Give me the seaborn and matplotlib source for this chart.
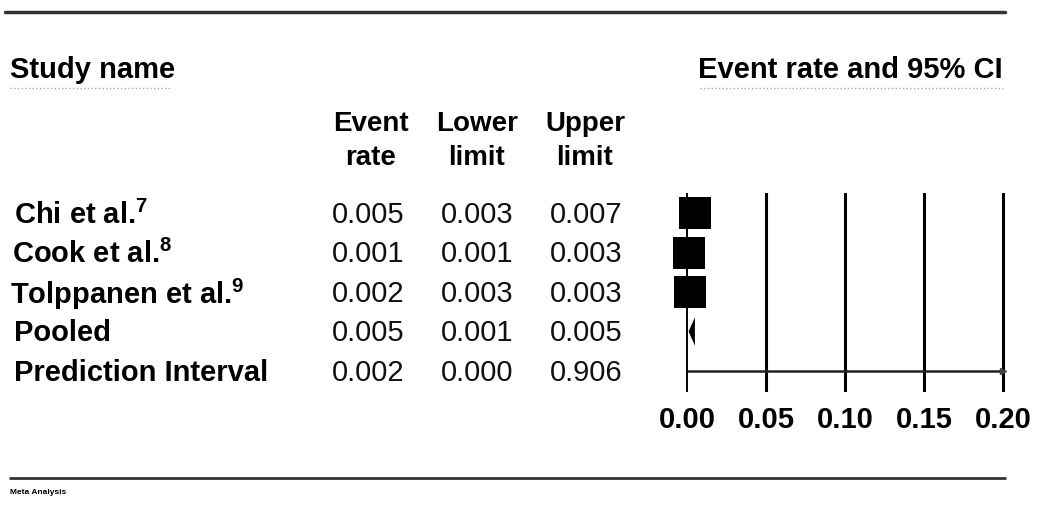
import matplotlib
matplotlib.use("Agg")
import matplotlib.pyplot as plt
import matplotlib.transforms as mtransforms
from matplotlib.lines import Line2D
import seaborn as sns
import pandas as pd

# data
studies = ["Chi et al.", "Cook et al.", "Tolppanen et al.", "Pooled", "Prediction Interval"]
refs = ["7", "8", "9", "", ""]
event_rate = [0.005, 0.001, 0.002, 0.005, 0.002]
lower = [0.003, 0.001, 0.003, 0.001, 0.000]
upper = [0.007, 0.003, 0.003, 0.005, 0.906]
kind = ["study", "study", "study", "pooled", "pi"]
xticks = [0.00, 0.05, 0.10, 0.15, 0.20]
col_headers = ["Event\nrate", "Lower\nlimit", "Upper\nlimit"]

W, H = 1038, 531

def fx(px):
    return px / W

def fy(py):
    return 1 - py / H

sns.set_theme(style="white")
plt.rcParams['font.family'] = ['Liberation Sans', 'DejaVu Sans']
plt.rcParams['mathtext.fontset'] = 'custom'
plt.rcParams['mathtext.rm'] = 'Liberation Sans'
plt.rcParams['mathtext.bf'] = 'Liberation Sans:bold'
plt.rcParams['text.color'] = 'black'
plt.rcParams['xtick.color'] = 'black'

df = pd.DataFrame({"study": studies, "rate": event_rate, "lower": lower,
                   "upper": upper, "kind": kind})
df["row"] = range(len(df))

fig = plt.figure(figsize=(W / 100, H / 100), dpi=100)
fig.patch.set_facecolor("white")

# forest axes: 0 -> px 687, 0.20 -> px 1003
left_px, right_px, top_px, bot_px = 640, 1030, 193, 392
scale = (1003 - 687) / 0.20
ax = fig.add_axes([fx(left_px), fy(bot_px), (right_px - left_px) / W, (bot_px - top_px) / H])
ax.set_xlim(-(687 - left_px) / scale, (right_px - 687) / scale)
row_px = 39.5
ax.set_ylim((bot_px - 213) / row_px, -(213 - top_px) / row_px)
ax.patch.set_alpha(0)
for s in ax.spines.values():
    s.set_visible(False)
ax.set_yticks([])
ax.set_xticks(xticks)
ax.set_xticklabels([f"{t:.2f}" for t in xticks], fontsize=21, fontweight="bold")
ax.tick_params(axis="x", length=0, pad=10)

# reference lines
ax.axvline(0, color="black", lw=1.4, zorder=1)
for t in xticks[1:]:
    ax.axvline(t, color="black", lw=2.2, zorder=1)

xmax = xticks[-1]
studies_df = df[df["kind"] == "study"]
ax.hlines(studies_df["row"], studies_df["lower"], studies_df["upper"], color="black", lw=1.5)
sns.scatterplot(data=studies_df, x="rate", y="row", marker="s", s=560, color="black",
                linewidth=0, ax=ax, legend=False, zorder=3)
ax.set_xlabel("")
ax.set_ylabel("")

# pooled diamond
p = df[df["kind"] == "pooled"].iloc[0]
h = 0.36
ax.fill([p["lower"], p["rate"], p["upper"], p["rate"]],
        [p["row"], p["row"] - h, p["row"], p["row"] + h], color="black", lw=0, zorder=3)

# prediction interval, clipped at the axis end
pi = df[df["kind"] == "pi"].iloc[0]
ax.hlines(pi["row"], pi["lower"], min(pi["upper"], xmax), color="#222222", lw=1.8, zorder=2)
ax.plot([xmax], [pi["row"]], marker=">", ms=5, color="#444444", zorder=2)

# text columns, y follows the data rows
trans = mtransforms.blended_transform_factory(fig.transFigure, ax.transData)
name_x = [14, 12, 10, 14, 14]
for i, (name, ref) in enumerate(zip(studies, refs)):
    label = name + (r"$^{\mathbf{" + ref + "}}$" if ref else "")
    fig.text(fx(name_x[i]), i + 0.05, label, transform=trans, fontsize=21,
             fontweight="bold", ha="left", va="center")
    for cx, val in zip([368, 477, 586], [event_rate[i], lower[i], upper[i]]):
        fig.text(fx(cx), i + 0.05, f"{val:.3f}", transform=trans, fontsize=21,
                 color="#111111", ha="center", va="center")

for cx, hdr in zip([371, 477, 585], col_headers):
    fig.text(fx(cx), fy(141), hdr, fontsize=20, fontweight="bold", ha="center",
             va="center", linespacing=1.4)

# headings
fig.text(fx(10), fy(70), "Study name", fontsize=21, fontweight="bold", ha="left", va="center")
fig.text(fx(1003), fy(70), "Event rate and 95% CI", fontsize=21, fontweight="bold",
         ha="right", va="center")
fig.add_artist(Line2D([fx(10), fx(172)], [fy(88), fy(88)], color="#aaaaaa", lw=1, ls=":"))
fig.add_artist(Line2D([fx(700), fx(1003)], [fy(88), fy(88)], color="#aaaaaa", lw=1, ls=":"))

# frame rules
fig.add_artist(Line2D([fx(5), fx(1005)], [fy(12), fy(12)], color="#333333", lw=2.5))
fig.add_artist(Line2D([fx(10), fx(1005)], [fy(478), fy(478)], color="#333333", lw=2))
fig.text(fx(10), fy(493), "Meta Analysis", fontsize=6, fontweight="bold", ha="left", va="center")

fig.savefig("out.png", dpi=100, facecolor="white")
